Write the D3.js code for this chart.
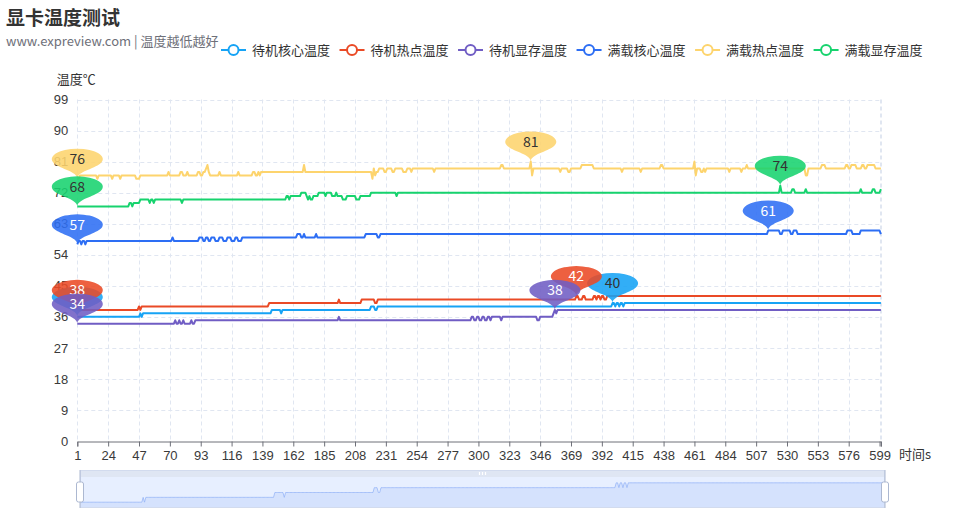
<!DOCTYPE html>
<html><head><meta charset="utf-8">
<script src="https://cdn.jsdelivr.net/npm/d3@7/dist/d3.min.js"></script>
<style>
body{margin:0;background:#fff;}
svg{display:block;font-family:"Microsoft YaHei","Noto Sans CJK SC","Noto Sans",sans-serif;}
</style>
</head><body>
<svg id="chart" width="960" height="517"></svg>
<script>
// ---------------- DATA ----------------
const titleText = "显卡温度测试";
const subtitleText = "www.expreview.com | 温度越低越好";
const yAxisName = "温度℃";
const xAxisName = "时间s";
const N = 600;
const categories = d3.range(1, N + 1);               // 时间 s
const xTickLabels = [1,24,47,70,93,116,139,162,185,208,231,254,277,300,323,346,369,392,415,438,461,484,507,530,553,576,599];
const yTicks = [0,9,18,27,36,45,54,63,72,81,90,99];
const seriesNames = ["待机核心温度","待机热点温度","待机显存温度","满载核心温度","满载热点温度","满载显存温度"];

// step runs: [start index, temperature]
const idleCoreRuns = [[0,36],[47,37],[48,36],[49,37],[145,38],[152,37],[153,38],[219,39],[222,38],[224,39],[399,40],[401,39],[402,40],[404,39],[405,40],[407,39],[408,40]];
const idleHotRuns = [[0,38],[46,39],[47,38],[48,39],[143,40],[195,41],[196,40],[212,41],[222,40],[224,41],[372,42],[374,41],[377,42],[379,41],[385,42],[387,41],[388,42],[390,41],[391,42],[393,41],[395,42]];
const idleVramRuns = [[0,34],[73,35],[74,34],[76,35],[77,34],[79,35],[80,34],[85,35],[86,34],[88,35],[195,36],[196,35],[294,36],[296,35],[298,36],[300,35],[302,36],[304,35],[306,36],[308,35],[309,36],[316,35],[317,36],[343,35],[345,36],[355,37],[356,38],[357,37],[358,38]];
const loadCoreRuns = [[0,57],[1,58],[3,57],[4,58],[6,57],[7,58],[71,59],[72,58],[91,59],[94,58],[96,59],[98,58],[100,59],[103,58],[106,59],[109,58],[112,59],[115,58],[118,59],[120,58],[123,59],[164,60],[167,59],[169,60],[170,59],[178,60],[179,59],[215,60],[224,59],[226,60],[515,61],[524,60],[526,61],[532,60],[534,61],[537,60],[574,61],[578,60],[584,61],[599,60]];
const loadHotRuns = [[0,76],[2,77],[15,76],[16,77],[26,76],[27,77],[32,76],[33,77],[44,76],[47,77],[68,78],[69,77],[77,78],[79,77],[82,78],[83,77],[90,78],[92,77],[94,78],[96,79],[97,80],[98,78],[99,77],[106,78],[107,77],[120,78],[121,77],[131,78],[133,77],[135,78],[136,77],[137,78],[169,80],[170,78],[220,76],[221,79],[222,77],[223,78],[225,79],[229,78],[231,79],[235,78],[237,79],[243,78],[246,79],[249,78],[250,79],[266,78],[267,79],[316,80],[318,79],[338,81],[339,77],[340,79],[360,78],[361,79],[366,78],[368,79],[376,80],[385,79],[406,78],[407,79],[420,78],[421,79],[435,80],[437,79],[460,81],[461,77],[462,79],[465,78],[467,79],[468,78],[469,79],[486,78],[487,79],[495,78],[496,79],[499,80],[500,79],[543,77],[545,79],[555,80],[558,79],[573,80],[575,79],[577,80],[581,79],[585,80],[587,79],[589,80],[595,79]];
const loadVramRuns = [[0,68],[39,69],[41,68],[42,69],[47,70],[54,69],[55,70],[57,69],[58,70],[78,69],[79,70],[156,71],[158,70],[159,71],[167,72],[171,71],[172,70],[173,71],[174,70],[176,71],[180,72],[185,71],[186,72],[190,71],[193,72],[194,71],[198,70],[201,71],[208,70],[211,71],[219,72],[238,71],[239,72],[524,74],[525,72],[533,73],[535,72],[543,73],[544,72],[584,73],[585,72],[593,73],[595,72],[599,73]];

const seriesRuns = [idleCoreRuns, idleHotRuns, idleVramRuns, loadCoreRuns, loadHotRuns, loadVramRuns];

// ---------------- STYLE ----------------
const colors = ["#16a3f5","#ea4a26","#705dc4","#2d6ef4","#fdd46d","#17d36e"];
const pinTextColors = ["#333","#fff","#fff","#fff","#333","#333"];

function expand(runs){
  const out = new Array(N);
  for (let r = 0; r < runs.length; r++){
    const end = r + 1 < runs.length ? runs[r+1][0] : N;
    for (let i = runs[r][0]; i < end; i++) out[i] = runs[r][1];
  }
  return out;
}
const seriesData = seriesRuns.map(expand);

const svg = d3.select("#chart");
const pLeft = 77.3, pRight = 880.9, pTop = 99.5, pBottom = 441;
const x = d3.scalePoint().domain(categories).range([pLeft, pRight]);
const y = d3.scaleLinear().domain([0, 99]).range([pBottom, pTop]);
const gridColor = "#e0e6f1";

// title
svg.append("text").attr("x",6).attr("y",25).attr("font-size",19).attr("font-weight","bold").attr("fill","#333").text(titleText);
svg.append("text").attr("x",6).attr("y",46).attr("font-size",13).attr("fill","#6e7079").text(subtitleText);

// grid
const grid = svg.append("g");
grid.selectAll(".hg").data(yTicks.filter(d=>d>0)).join("line")
  .attr("x1",pLeft).attr("x2",pRight)
  .attr("y1",d=>Math.round(y(d))+0.5).attr("y2",d=>Math.round(y(d))+0.5)
  .attr("stroke",gridColor).attr("stroke-dasharray","4,3");
const vTicks = xTickLabels.concat([N]);
grid.selectAll(".vg").data(vTicks).join("line")
  .attr("x1",d=>Math.round(x(d))+0.5).attr("x2",d=>Math.round(x(d))+0.5)
  .attr("y1",pTop).attr("y2",pBottom)
  .attr("stroke",gridColor).attr("stroke-dasharray","4,3");

// y axis
const yAxis = svg.append("g").attr("transform",`translate(${pLeft},0)`)
  .call(d3.axisLeft(y).tickValues(yTicks).tickSize(0).tickPadding(9));
yAxis.select(".domain").remove();
yAxis.selectAll("text").attr("font-size",13).attr("fill","#3a3a3a").attr("font-family",null);

// x axis
const xAxis = svg.append("g").attr("transform",`translate(0,${Math.round(pBottom)+0.5})`)
  .call(d3.axisBottom(x).tickValues(vTicks).tickSize(5).tickPadding(4).tickFormat(d=> d===N ? "" : d));
xAxis.select(".domain").attr("stroke","#6e7079");
xAxis.selectAll(".tick line").attr("stroke","#6e7079");
xAxis.selectAll("text").attr("font-size",13).attr("fill","#3a3a3a").attr("font-family",null);

// axis names
svg.append("text").attr("x",pLeft-1).attr("y",84).attr("text-anchor","middle").attr("font-size",13).attr("fill","#333").text(yAxisName);
svg.append("text").attr("x",899).attr("y",459).attr("font-size",13).attr("fill","#333").text(xAxisName);

// lines
const line = d3.line().x((d,i)=>x(categories[i])).y(d=>y(d));
const lineG = svg.append("g");
seriesData.forEach((data,k)=>{
  lineG.append("path").attr("d",line(data)).attr("fill","none")
    .attr("stroke",colors[k]).attr("stroke-width",2).attr("stroke-linejoin","round");
});

// pin shape (echarts-style pin, tip at 0,0)
function pinPath(){
  const w = 30, h = 50, r = w/2;
  const dy = r*r/(h-r), cy = -h + r + dy;
  const angle = Math.asin(dy/r);
  const dx = Math.cos(angle)*r, tanX = Math.sin(angle), tanY = Math.cos(angle);
  const cp = r*0.6, cp2 = r*0.7;
  const p = d3.path();
  p.moveTo(-dx, cy+dy);
  p.arc(0, cy, r, Math.PI-angle, Math.PI*2+angle);
  p.bezierCurveTo(dx - tanX*cp, cy+dy+tanY*cp, 0, -cp2, 0, 0);
  p.bezierCurveTo(0, -cp2, -dx + tanX*cp, cy+dy+tanY*cp, -dx, cy+dy);
  p.closePath();
  return p.toString();
}
const pinD = pinPath();
const pinG = svg.append("g");
seriesData.forEach((data,k)=>{
  const mx = d3.max(data), mn = d3.min(data);
  const pts = [[data.indexOf(mx), mx],[data.indexOf(mn), mn]];
  pts.forEach(([i,v])=>{
    const g = pinG.append("g").attr("transform",`translate(${x(categories[i])},${y(v)})`);
    g.append("path").attr("d",pinD).attr("transform","scale(1.7,0.69)")
      .attr("fill",colors[k]).attr("fill-opacity",0.88);
    g.append("text").attr("x",0).attr("y",-19.7).attr("dy","0.35em").attr("text-anchor","middle")
      .attr("font-size",14).attr("fill",pinTextColors[k]).text(v);
  });
});

// legend
const legend = svg.append("g");
let lx = 221; const ly = 50;
seriesNames.forEach((name,k)=>{
  const g = legend.append("g");
  g.append("line").attr("x1",lx).attr("x2",lx+25).attr("y1",ly).attr("y2",ly).attr("stroke",colors[k]).attr("stroke-width",2);
  g.append("circle").attr("cx",lx+12.5).attr("cy",ly).attr("r",5).attr("fill","#fff").attr("stroke",colors[k]).attr("stroke-width",2);
  const t = g.append("text").attr("x",lx+31).attr("y",ly).attr("dy","0.36em").attr("font-size",13).attr("fill","#333").text(name);
  const tw = t.node().getComputedTextLength();
  lx += 25 + 6 + tw + 9.5;
});

// dataZoom slider
const sx0 = 80, sx1 = 885, bandTop = 470, sTop = 477, sBot = 508;
const sl = svg.append("g");
sl.append("rect").attr("x",sx0).attr("y",bandTop).attr("width",sx1-sx0).attr("height",sTop-bandTop)
  .attr("fill","#d2dbee").attr("fill-opacity",0.7);
sl.append("rect").attr("x",sx0).attr("y",sTop).attr("width",sx1-sx0).attr("height",sBot-sTop)
  .attr("fill","rgb(135,175,255)").attr("fill-opacity",0.2);
const shadowData = seriesData[0];
const ext = d3.extent(shadowData); const span = ext[1]-ext[0];
const sxs = d3.scaleLinear().domain([0, N-1]).range([sx0, sx1]);
const sys = d3.scaleLinear().domain([ext[0]-span*0.3, ext[1]+span*0.3]).range([sBot, sTop]);
const area = d3.area().x((d,i)=>sxs(i)).y0(sBot).y1(d=>sys(d));
const sline = d3.line().x((d,i)=>sxs(i)).y(d=>sys(d));
sl.append("path").attr("d",area(shadowData)).attr("fill","#8fb0f7").attr("fill-opacity",0.2);
sl.append("path").attr("d",sline(shadowData)).attr("fill","none").attr("stroke","#8fb0f7").attr("stroke-width",0.7);
sl.append("rect").attr("x",sx0+0.5).attr("y",bandTop+0.5).attr("width",sx1-sx0-1).attr("height",sBot-bandTop-1)
  .attr("fill","none").attr("stroke","#d2dbee");
// move handle marks
[-3,0,3].forEach(o=>{
  sl.append("rect").attr("x",(sx0+sx1)/2+o-0.6).attr("y",bandTop+2).attr("width",1.2).attr("height",3).attr("fill","#fff");
});
// handles
[sx0, sx1].forEach(hx=>{
  sl.append("line").attr("x1",hx).attr("x2",hx).attr("y1",bandTop).attr("y2",sBot).attr("stroke","#acb8d1").attr("stroke-width",1);
  sl.append("rect").attr("x",hx-3.5).attr("y",482).attr("width",7).attr("height",20).attr("rx",2)
    .attr("fill","#fff").attr("stroke","#acb8d1");
});
</script>
</body></html>
